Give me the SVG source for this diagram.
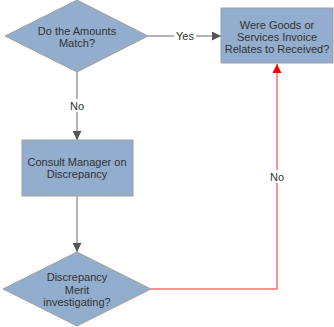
<svg xmlns="http://www.w3.org/2000/svg" width="334" height="327" viewBox="0 0 334 327">
<defs>
<style>
.node{fill:#92adcd;stroke:#a0a0a0;stroke-width:1}
.t{font-family:"Liberation Sans",Arial,sans-serif;font-size:11px;fill:#333;text-anchor:middle}
.c{fill:none;stroke:#6b6b6b;stroke-width:1}
.r{fill:none;stroke:#ff6f6f;stroke-width:1.5}
.lbl{font-family:"Liberation Sans",Arial,sans-serif;font-size:11px;fill:#333;text-anchor:middle}
</style>
<marker id="ag" viewBox="0 0 10 10" refX="10" refY="5" markerWidth="9" markerHeight="9" markerUnits="userSpaceOnUse" orient="auto"><path d="M0,0L10,5L0,10z" fill="#555"/></marker>
<marker id="ar" viewBox="0 0 10 10" refX="10" refY="5" markerWidth="9" markerHeight="9" markerUnits="userSpaceOnUse" orient="auto"><path d="M0,0L10,5L0,10z" fill="#ff0000"/></marker>
</defs>
<rect width="334" height="327" fill="#fff"/>
<g id="connectors">
<path class="c" d="M148,36H221" marker-end="url(#ag)"/>
<rect x="174" y="29" width="22" height="13" fill="#fff"/>
<text class="lbl" x="185" y="40">Yes</text>
<path class="c" d="M77,72V140" marker-end="url(#ag)"/>
<rect x="69" y="99" width="16" height="13" fill="#fff"/>
<text class="lbl" x="77" y="110">No</text>
<path class="c" d="M77,196V252" marker-end="url(#ag)"/>
<path class="r" d="M151,289H277V64" marker-end="url(#ar)"/>
<rect x="269" y="170" width="16" height="13" fill="#fff"/>
<text class="lbl" x="277" y="181">No</text>
</g>
<g id="n1">
<polygon class="node" points="77,0 148,36 77,72 5,36"/>
<text class="t" x="77" y="35">Do the Amounts</text>
<text class="t" x="77" y="47">Match?</text>
</g>
<g id="n2">
<rect class="node" x="221" y="8" width="112" height="55"/>
<text class="t" x="277" y="29">Were Goods or</text>
<text class="t" x="277" y="41">Services Invoice</text>
<text class="t" x="277" y="53">Relates to Received?</text>
</g>
<g id="n3">
<rect class="node" x="22" y="140" width="111" height="56"/>
<text class="t" x="77" y="166">Consult Manager on</text>
<text class="t" x="77" y="178">Discrepancy</text>
</g>
<g id="n4">
<polygon class="node" points="77,252 151,289 77,326 3,289"/>
<text class="t" x="77" y="281">Discrepancy</text>
<text class="t" x="77" y="294">Merit</text>
<text class="t" x="77" y="306">investigating?</text>
</g>
</svg>
